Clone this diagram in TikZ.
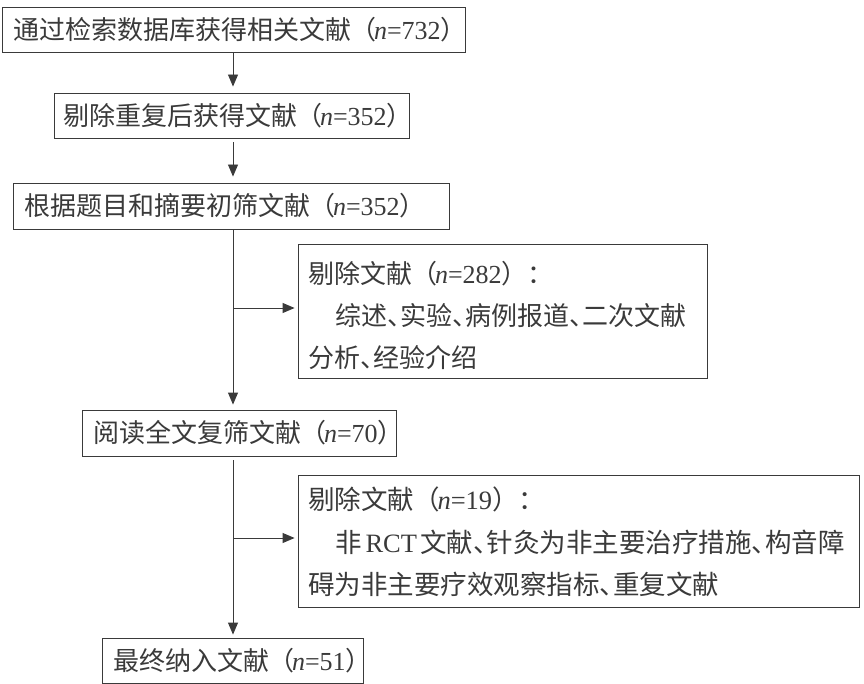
\documentclass[tikz,border=0pt]{standalone}
\usepackage{fontspec}
\setmainfont{Noto Sans CJK SC}
\newfontfamily\lat{Liberation Serif}
\usetikzlibrary{arrows.meta}
\definecolor{ink}{HTML}{3A3A3A}
\newcommand{\nn}[1]{{\lat\textit{n}=#1}}
\newcommand{\lp}{\kern-1pt（\kern-2pt}
\newcommand{\rp}{）}
\newcommand{\dun}{、\kern-13pt}
\tikzset{
  mainbox/.style={draw=ink, line width=0.9pt, inner xsep=11pt, inner ysep=0pt, text=ink,
    align=left, font=\fontsize{26}{30}\selectfont},
  exclbox/.style={draw=ink, line width=0.9pt, inner xsep=10pt, inner ysep=0pt,
    text=ink, align=left},
  arr/.style={draw=ink, line width=0.9pt, -{Triangle[length=12pt,width=10pt]}},
}
\begin{document}
\begin{tikzpicture}[x=1pt,y=-1pt]
\useasboundingbox (0,0) rectangle (864,684);
\node[mainbox, minimum width=463pt, minimum height=45pt, text width=441pt] (b1) at (233.5,29.5)
  {通过检索数据库获得相关文献\lp\nn{732}\rp};
\node[mainbox, minimum width=355pt, minimum height=45pt, text width=333pt] (b2) at (231.5,115.5)
  {\kern-2pt剔除重复后获得文献\lp\nn{352}\rp};
\node[mainbox, minimum width=436pt, minimum height=46pt, text width=414pt] (b3) at (231,206)
  {根据题目和摘要初筛文献\lp\nn{352}\rp};
\node[exclbox, font=\fontsize{26}{42}\selectfont, minimum width=409pt, minimum height=134pt, text width=389pt] (e1) at (502.5,311)
  {\rule{0pt}{33pt}剔除文献\lp\nn{282}\rp：\\
   \hspace*{27pt}综述\dun 实验\dun 病例报道\dun 二次文献\\
   分析\dun 经验介绍\rule[-3pt]{0pt}{3pt}};
\node[mainbox, minimum width=314pt, minimum height=46pt, text width=292pt] (b4) at (239,433)
  {阅读全文复筛文献\lp\nn{70}\rp};
\node[exclbox, font=\fontsize{26.5}{42.5}\selectfont, minimum width=561pt, minimum height=132pt, text width=541pt] (e2) at (578.5,541)
  {\rule{0pt}{25pt}剔除文献\lp\nn{19}\rp：\\
   \hspace*{27pt}非\kern4pt{\lat RCT}\kern3pt 文献\dun 针灸为非主要治疗措施\dun 构音障\\
   碍为非主要疗效观察指标\dun 重复文献\rule[-3pt]{0pt}{3pt}};
\node[mainbox, minimum width=261pt, minimum height=45pt, text width=239pt] (b5) at (232.5,660.5)
  {最终纳入文献\lp\nn{51}\rp};
\coordinate (ax) at (233,0);
\coordinate (v1) at (233,308);
\coordinate (v2) at (233,538);
\draw[arr, shorten >=6pt] (b1.south -| ax) -- (b2.north -| ax);
\draw[arr, shorten <=4pt, shorten >=6pt] (b2.south -| ax) -- (b3.north -| ax);
\draw[arr, shorten >=5pt] (b3.south -| ax) -- (b4.north -| ax);
\draw[arr, shorten <=4pt, shorten >=3pt] (b4.south -| ax) -- (b5.north -| ax);
\draw[arr, shorten >=3pt] (v1) -- (e1.west |- v1);
\draw[arr, shorten >=3pt] (v2) -- (e2.west |- v2);
\end{tikzpicture}
\end{document}
